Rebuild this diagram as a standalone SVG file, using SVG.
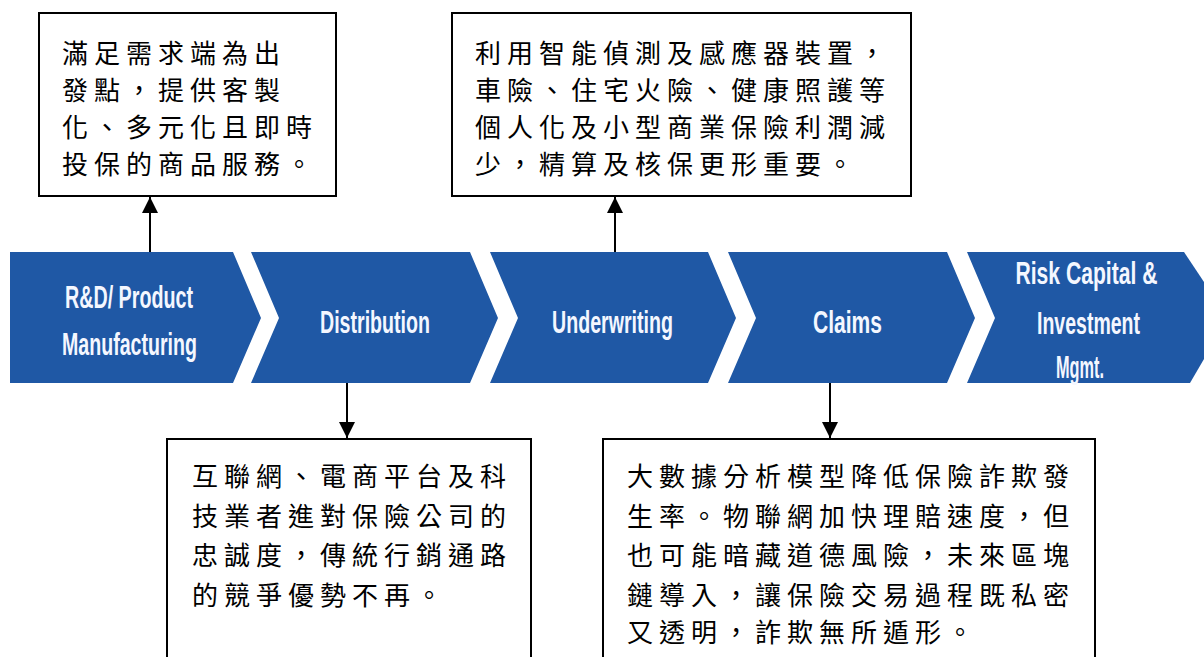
<svg xmlns="http://www.w3.org/2000/svg" width="1204" height="657" viewBox="0 0 1204 657">
<style>
.box{fill:#fff;stroke:#000;stroke-width:2}
.cjk{font-family:"Noto Sans CJK TC","Noto Sans CJK SC",sans-serif;font-size:26px;letter-spacing:6px;fill:#000}
.lbl{font-family:"Liberation Sans",Arial,sans-serif;font-weight:bold;font-size:32px;fill:#f4f7ff;text-anchor:middle}
.con{stroke:#000;stroke-width:2;fill:none}
.chev{fill:#fff}
</style>
<defs>
<marker id="ah" markerUnits="userSpaceOnUse" markerWidth="16" markerHeight="18" refX="16" refY="8" orient="auto">
<path d="M0,0 L16,8 L0,16 Z" fill="#000"/>
</marker>
</defs>
<rect width="1204" height="657" fill="#fff"/>
<g id="band">
<polygon points="10,252 1184,252 1228,318 1190,383 10,383" fill="#1f58a5"/>
<polygon class="chev" points="233,252 251,252 279,318 251,383 233,383 261,318"/>
<polygon class="chev" points="470,252 490,252 518,318 490,383 470,383 498,318"/>
<polygon class="chev" points="708,252 728,252 756,318 728,383 708,383 736,318"/>
<polygon class="chev" points="947,252 967,252 995,318 967,383 947,383 975,318"/>
</g>
<g id="stage-rd">
<text class="lbl" x="129" y="308" textLength="128" lengthAdjust="spacingAndGlyphs">R&amp;D/ Product</text>
<text class="lbl" x="129.5" y="355" textLength="135" lengthAdjust="spacingAndGlyphs">Manufacturing</text>
</g>
<g id="stage-distribution">
<text class="lbl" x="375" y="333" textLength="110" lengthAdjust="spacingAndGlyphs">Distribution</text>
</g>
<g id="stage-underwriting">
<text class="lbl" x="612.5" y="333" textLength="121" lengthAdjust="spacingAndGlyphs">Underwriting</text>
</g>
<g id="stage-claims">
<text class="lbl" x="847.5" y="333" textLength="69" lengthAdjust="spacingAndGlyphs">Claims</text>
</g>
<g id="stage-risk">
<text class="lbl" transform="translate(1086.5,284) scale(0.66,1)" x="0" y="0" font-size="30">Risk Capital &amp;</text>
<text class="lbl" x="1088.5" y="334" textLength="103" lengthAdjust="spacingAndGlyphs">Investment</text>
<text class="lbl" x="1080" y="378" textLength="48" lengthAdjust="spacingAndGlyphs">Mgmt.</text>
</g>
<g id="note-rd">
<rect class="box" x="39" y="13" width="297" height="183"/>
<text class="cjk" x="62" y="63">滿足需求端為出</text>
<text class="cjk" x="62" y="100">發點，提供客製</text>
<text class="cjk" x="62" y="137">化、多元化且即時</text>
<text class="cjk" x="62" y="174">投保的商品服務。</text>
</g>
<g id="note-underwriting">
<rect class="box" x="452" y="13" width="459" height="183"/>
<text class="cjk" x="475" y="63">利用智能偵測及感應器裝置，</text>
<text class="cjk" x="475" y="100">車險、住宅火險、健康照護等</text>
<text class="cjk" x="475" y="137">個人化及小型商業保險利潤減</text>
<text class="cjk" x="475" y="174">少，精算及核保更形重要。</text>
</g>
<g id="note-distribution">
<rect class="box" x="167" y="439" width="364" height="240"/>
<text class="cjk" x="192" y="486">互聯網、電商平台及科</text>
<text class="cjk" x="192" y="525.5">技業者進對保險公司的</text>
<text class="cjk" x="192" y="565">忠誠度，傳統行銷通路</text>
<text class="cjk" x="192" y="604.5">的競爭優勢不再。</text>
</g>
<g id="note-claims">
<rect class="box" x="603" y="439" width="492" height="240"/>
<text class="cjk" x="627" y="486">大數據分析模型降低保險詐欺發</text>
<text class="cjk" x="627" y="525.5">生率。物聯網加快理賠速度，但</text>
<text class="cjk" x="627" y="565">也可能暗藏道德風險，未來區塊</text>
<text class="cjk" x="627" y="604.5">鏈導入，讓保險交易過程既私密</text>
<text class="cjk" x="627" y="642">又透明，詐欺無所遁形。</text>
</g>
<g id="connectors">
<line class="con" x1="150" y1="252" x2="150" y2="197" marker-end="url(#ah)"/>
<line class="con" x1="615" y1="252" x2="615" y2="197" marker-end="url(#ah)"/>
<line class="con" x1="347" y1="383" x2="347" y2="438" marker-end="url(#ah)"/>
<line class="con" x1="830" y1="383" x2="830" y2="438" marker-end="url(#ah)"/>
</g>
</svg>
